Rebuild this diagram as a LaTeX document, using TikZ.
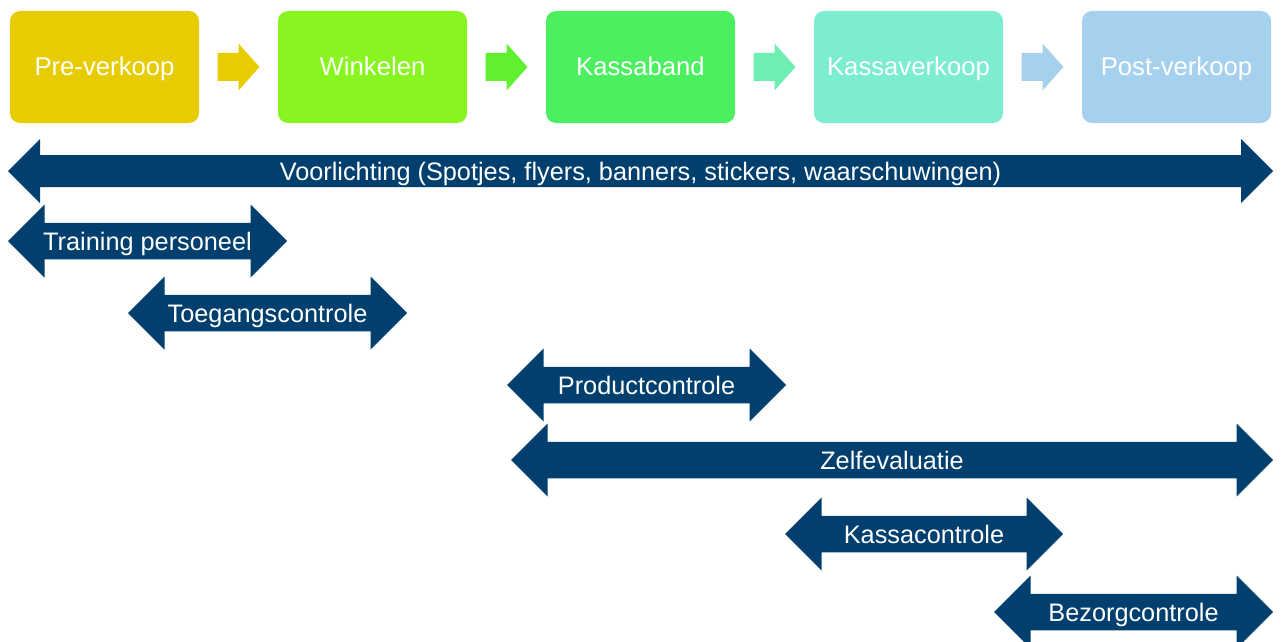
\documentclass[tikz,border=0pt]{standalone}
\usepackage{fontspec}
\setmainfont{Liberation Sans}
\usetikzlibrary{calc}

\definecolor{goud}{HTML}{E6CC00}
\definecolor{limoen}{HTML}{88F520}
\definecolor{groen}{HTML}{4CEF60}
\definecolor{mint}{HTML}{7CEDD0}
\definecolor{lichtblauw}{HTML}{A5D0EE}
\definecolor{schakelgroen}{HTML}{60F030}
\definecolor{schakelmint}{HTML}{6EEEB0}
\definecolor{donkerblauw}{HTML}{003F6E}

\tikzset{
  fase/.style={rounded corners=10pt, minimum width=189pt, minimum height=112pt,
    inner sep=0pt, text=white, text height=18pt, text depth=0pt,
    font=\fontsize{25.7}{30}\selectfont},
  balk/.style={fill=donkerblauw},
  balktekst/.style={inner sep=0pt, text=white, text height=18pt, text depth=0pt,
    font=\fontsize{25.3}{30}\selectfont}
}

% dubbele pijl: naam, linker punt, rechter punt, hoogte, halve kop, tekst
\newcommand{\pijl}[6]{%
  \fill[balk] (#2,#4) -- ({#2+#5},{#4-#5}) -- ({#2+#5},{#4-#5/2})
    -- ({#3-#5},{#4-#5/2}) -- ({#3-#5},{#4-#5}) -- (#3,#4)
    -- ({#3-#5},{#4+#5}) -- ({#3-#5},{#4+#5/2}) -- ({#2+#5},{#4+#5/2})
    -- ({#2+#5},{#4+#5}) -- cycle;
  \node[balktekst] (#1) at ({(#2+#3)/2},#4) {#6};
}

% korte pijl tussen twee fasen
\newcommand{\schakel}[3]{%
  \coordinate (#1-#2) at ($(#1.east)!0.5!(#2.west)$);
  \fill[#3] ($(#1-#2)+(-21,-14)$) -- ++(21,0) -- ++(0,-9.5) -- ++(21,23.5)
    -- ++(-21,23.5) -- ++(0,-9.5) -- ++(-21,0) -- cycle;
}

\begin{document}
\begin{tikzpicture}[x=1pt,y=-1pt]
  \useasboundingbox (0,0) rectangle (1283,642);

  % fasen
  \node[fase, fill=goud] (pre) at (104.5,67) {Pre-verkoop};
  \node[fase, fill=limoen] (winkel) at (372.5,67) {Winkelen};
  \node[fase, fill=groen] (band) at (640.5,67) {Kassaband};
  \node[fase, fill=mint] (kassa) at (908.5,67) {Kassaverkoop};
  \node[fase, fill=lichtblauw] (post) at (1176.5,67) {Post-verkoop};

  \schakel{pre}{winkel}{goud}
  \schakel{winkel}{band}{schakelgroen}
  \schakel{band}{kassa}{schakelmint}
  \schakel{kassa}{post}{lichtblauw}

  % maatregelen
  \pijl{voorlichting}{8}{1273}{171}{32}{Voorlichting (Spotjes, flyers, banners, stickers, waarschuwingen)}
  \pijl{training}{8}{287}{241}{36.5}{Training personeel}
  \pijl{toegang}{128}{407}{313}{36.5}{Toegangscontrole}
  \pijl{product}{507}{786}{385}{36.5}{Productcontrole}
  \pijl{zelf}{511}{1273}{460}{36.5}{Zelfevaluatie}
  \pijl{kassacontrole}{785}{1063}{534}{36.5}{Kassacontrole}
  \pijl{bezorg}{994}{1273}{612}{36.5}{Bezorgcontrole}
\end{tikzpicture}
\end{document}
